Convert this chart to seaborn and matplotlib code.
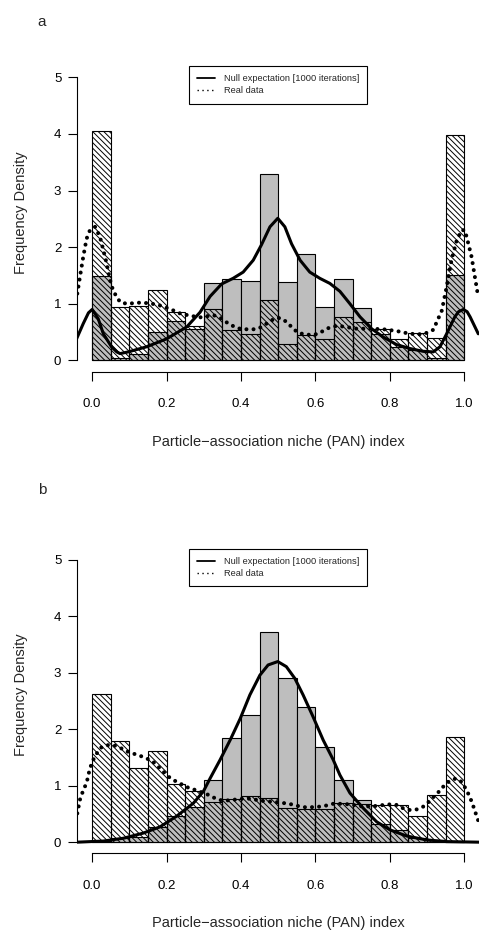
import numpy as np
import pandas as pd
import matplotlib
matplotlib.use("Agg")
import matplotlib.pyplot as plt
from matplotlib.lines import Line2D
import seaborn as sns

# ---------------- data ----------------
bin_edges = [0.00, 0.05, 0.10, 0.15, 0.20, 0.25, 0.30, 0.35, 0.40, 0.45, 0.50,
             0.55, 0.60, 0.65, 0.70, 0.75, 0.80, 0.85, 0.90, 0.95, 1.00]

# panel a histograms (frequency density per bin)
a_null_hist = [1.49, 0.05, 0.12, 0.50, 0.69, 0.55, 1.37, 1.43, 1.40, 3.30,
               1.39, 1.88, 0.94, 1.44, 0.93, 0.47, 0.24, 0.18, 0.05, 1.50]
a_real_hist = [4.05, 0.94, 0.96, 1.25, 0.85, 0.61, 0.91, 0.54, 0.47, 1.06,
               0.29, 0.45, 0.37, 0.77, 0.68, 0.56, 0.38, 0.48, 0.40, 3.98]

# panel b histograms
b_null_hist = [0.02, 0.07, 0.09, 0.26, 0.46, 0.63, 1.10, 1.85, 2.26, 3.73,
               2.91, 2.39, 1.68, 1.10, 0.75, 0.32, 0.22, 0.07, 0.03, 0.01]
b_real_hist = [2.63, 1.80, 1.31, 1.62, 1.03, 0.90, 0.71, 0.76, 0.82, 0.79,
               0.61, 0.59, 0.59, 0.70, 0.67, 0.65, 0.65, 0.47, 0.83, 1.87]

# panel a density curves
a_null_x = [-0.042, -0.024, -0.010, 0.000, 0.016, 0.030, 0.052, 0.066, 0.075, 0.097,
            0.146, 0.200, 0.254, 0.290, 0.317, 0.348, 0.379, 0.406, 0.433, 0.455,
            0.478, 0.499, 0.518, 0.536, 0.559, 0.585, 0.612, 0.639, 0.666, 0.693,
            0.720, 0.751, 0.783, 0.818, 0.854, 0.890, 0.917, 0.935, 0.953, 0.975,
            0.985, 0.998, 1.008, 1.016, 1.038]
a_null_y = [0.38, 0.65, 0.84, 0.90, 0.74, 0.47, 0.24, 0.15, 0.12, 0.15,
            0.24, 0.38, 0.59, 0.85, 1.13, 1.35, 1.45, 1.56, 1.77, 2.04,
            2.36, 2.51, 2.36, 2.06, 1.77, 1.56, 1.45, 1.36, 1.22, 1.00,
            0.77, 0.56, 0.41, 0.28, 0.21, 0.16, 0.15, 0.24, 0.47, 0.77,
            0.86, 0.90, 0.86, 0.77, 0.47]

a_real_x = [-0.040, -0.033, -0.024, -0.015, -0.006, 0.008, 0.021, 0.030, 0.039, 0.048,
            0.057, 0.075, 0.093, 0.128, 0.155, 0.182, 0.209, 0.236, 0.263, 0.290,
            0.326, 0.348, 0.366, 0.384, 0.402, 0.438, 0.456, 0.473, 0.491, 0.505,
            0.523, 0.536, 0.551, 0.569, 0.590, 0.608, 0.623, 0.641, 0.662, 0.711,
            0.747, 0.783, 0.818, 0.854, 0.890, 0.917, 0.940, 0.953, 0.966, 0.980,
            0.993, 1.002, 1.011, 1.020, 1.029, 1.038]
a_real_y = [1.18, 1.47, 1.83, 2.15, 2.30, 2.36, 2.18, 1.95, 1.71, 1.42,
            1.22, 1.03, 1.00, 1.02, 1.01, 0.97, 0.91, 0.83, 0.79, 0.76,
            0.80, 0.74, 0.65, 0.59, 0.55, 0.55, 0.59, 0.67, 0.74, 0.75,
            0.68, 0.59, 0.50, 0.46, 0.45, 0.47, 0.53, 0.59, 0.61, 0.56,
            0.56, 0.55, 0.52, 0.47, 0.46, 0.54, 0.88, 1.30, 1.77, 2.12,
            2.30, 2.30, 2.07, 1.83, 1.47, 1.12]

# panel b density curves
b_null_x = [-0.040, 0.030, 0.084, 0.137, 0.182, 0.227, 0.272, 0.299, 0.317, 0.344,
            0.371, 0.398, 0.424, 0.451, 0.473, 0.499, 0.522, 0.545, 0.567, 0.594,
            0.621, 0.648, 0.666, 0.693, 0.729, 0.765, 0.800, 0.845, 0.899, 0.953,
            1.040]
b_null_y = [0.00, 0.02, 0.07, 0.16, 0.27, 0.46, 0.69, 0.90, 1.13, 1.46,
            1.81, 2.19, 2.61, 2.96, 3.14, 3.20, 3.11, 2.90, 2.61, 2.22,
            1.81, 1.46, 1.19, 0.87, 0.60, 0.36, 0.22, 0.11, 0.04, 0.01,
            0.00]

b_real_x = [-0.040, -0.033, -0.024, -0.015, -0.006, 0.003, 0.012, 0.026, 0.043, 0.061,
            0.079, 0.097, 0.115, 0.133, 0.151, 0.169, 0.182, 0.196, 0.209, 0.227,
            0.245, 0.263, 0.281, 0.299, 0.312, 0.330, 0.348, 0.371, 0.389, 0.406,
            0.424, 0.442, 0.460, 0.478, 0.496, 0.518, 0.536, 0.554, 0.572, 0.590,
            0.612, 0.630, 0.648, 0.675, 0.702, 0.729, 0.760, 0.796, 0.818, 0.836,
            0.854, 0.872, 0.890, 0.906, 0.919, 0.933, 0.946, 0.960, 0.978, 0.993,
            1.005, 1.014, 1.022, 1.029, 1.036, 1.042]
b_real_y = [0.51, 0.75, 0.92, 1.05, 1.31, 1.46, 1.57, 1.69, 1.72, 1.71,
            1.66, 1.60, 1.56, 1.52, 1.47, 1.40, 1.31, 1.22, 1.14, 1.07,
            1.01, 0.95, 0.92, 0.87, 0.84, 0.78, 0.74, 0.74, 0.76, 0.77,
            0.77, 0.75, 0.73, 0.72, 0.71, 0.69, 0.67, 0.64, 0.62, 0.62,
            0.63, 0.65, 0.68, 0.68, 0.66, 0.63, 0.64, 0.67, 0.66, 0.60,
            0.57, 0.58, 0.63, 0.72, 0.81, 0.90, 1.00, 1.08, 1.13, 1.07,
            0.94, 0.82, 0.69, 0.55, 0.42, 0.30]

x_ticks = [0.0, 0.2, 0.4, 0.6, 0.8, 1.0]
x_ticklabels = ["0.0", "0.2", "0.4", "0.6", "0.8", "1.0"]
y_ticks = [0, 1, 2, 3, 4, 5]
y_ticklabels = ["0", "1", "2", "3", "4", "5"]
legend_labels = ["Null expectation [1000 iterations]", "Real data"]
x_label = "Particle\u2212association niche (PAN) index"
y_label = "Frequency Density"
panel_labels = ["a", "b"]

# ---------------- style ----------------
sns.set_style("ticks")
plt.rcParams["font.family"] = ["Liberation Sans", "DejaVu Sans"]
plt.rcParams["hatch.linewidth"] = 0.7
plt.rcParams["axes.edgecolor"] = "black"
plt.rcParams["xtick.color"] = "black"
plt.rcParams["ytick.color"] = "black"

fig = plt.figure(figsize=(4.84, 9.30), dpi=100)
ax_a = fig.add_axes([0.1597, 0.6003, 0.9897 - 0.1597, 0.929 - 0.6003])
ax_b = fig.add_axes([0.1597, 0.0823, 0.9897 - 0.1597, 0.41 - 0.0823])

centers = [(lo + hi) / 2 for lo, hi in zip(bin_edges[:-1], bin_edges[1:])]
hatch = "\\" * 6


def draw_panel(ax, null_hist, real_hist, nx, ny, rx, ry, label, label_y):
    df_n = pd.DataFrame({"x": centers, "w": null_hist})
    df_r = pd.DataFrame({"x": centers, "w": real_hist})
    sns.histplot(data=df_n, x="x", weights="w", bins=list(bin_edges), stat="count",
                 ax=ax, facecolor="#bebebe", edgecolor="black", linewidth=0.8,
                 alpha=1, zorder=1)
    sns.histplot(data=df_r, x="x", weights="w", bins=list(bin_edges), stat="count",
                 ax=ax, facecolor="none", edgecolor="black", linewidth=0.8,
                 hatch=hatch, alpha=1, zorder=2)
    sns.lineplot(x=nx, y=ny, ax=ax, color="black", linewidth=2.2,
                 zorder=4, sort=False, estimator=None)
    sns.lineplot(x=rx, y=ry, ax=ax, color="black", linewidth=2.9,
                 linestyle=(0, (0.01, 1.75)), dash_capstyle="round",
                 zorder=5, sort=False, estimator=None)

    ax.set_xlim(-0.04, 1.04)
    ax.set_ylim(-0.2, 5.2)
    ax.set_xticks(x_ticks)
    ax.set_xticklabels(x_ticklabels)
    ax.set_yticks(y_ticks)
    ax.set_yticklabels(y_ticklabels)
    for s in ["top", "right"]:
        ax.spines[s].set_visible(False)
    ax.spines["bottom"].set_bounds(0, 1)
    ax.spines["left"].set_bounds(0, 5)
    ax.spines["bottom"].set_linewidth(0.8)
    ax.spines["left"].set_linewidth(0.8)
    ax.tick_params(axis="both", direction="out", length=6.5, width=0.8,
                   labelsize=9.5, color="black")
    ax.tick_params(axis="x", pad=12.5)
    ax.tick_params(axis="y", pad=5)
    ax.set_xlabel(x_label, fontsize=10.5)
    ax.set_ylabel(y_label, fontsize=10.5)
    ax.xaxis.set_label_coords(0.5, -0.2065)
    ax.yaxis.set_label_coords(-0.122, 0.52)

    handles = [Line2D([0], [0], color="black", lw=1.3),
               Line2D([0], [0], color="black", lw=1.0, linestyle=(0, (1, 2.5)))]
    leg = ax.legend(handles, legend_labels, loc="upper center",
                    bbox_to_anchor=(0.5, 1.0), borderaxespad=0,
                    fontsize=6.7, borderpad=0.9, labelspacing=0.3,
                    handlelength=1.9, handletextpad=0.95, fancybox=False,
                    framealpha=1, edgecolor="black")
    leg.get_frame().set_linewidth(0.8)

    fig.text(42 / 484, label_y, label, ha="center", va="center", fontsize=11)


draw_panel(ax_a, a_null_hist, a_real_hist, a_null_x, a_null_y, a_real_x, a_real_y,
           panel_labels[0], 1 - 22 / 930)
draw_panel(ax_b, b_null_hist, b_real_hist, b_null_x, b_null_y, b_real_x, b_real_y,
           panel_labels[1], 1 - 490 / 930)

fig.savefig("out.png", dpi=100)
